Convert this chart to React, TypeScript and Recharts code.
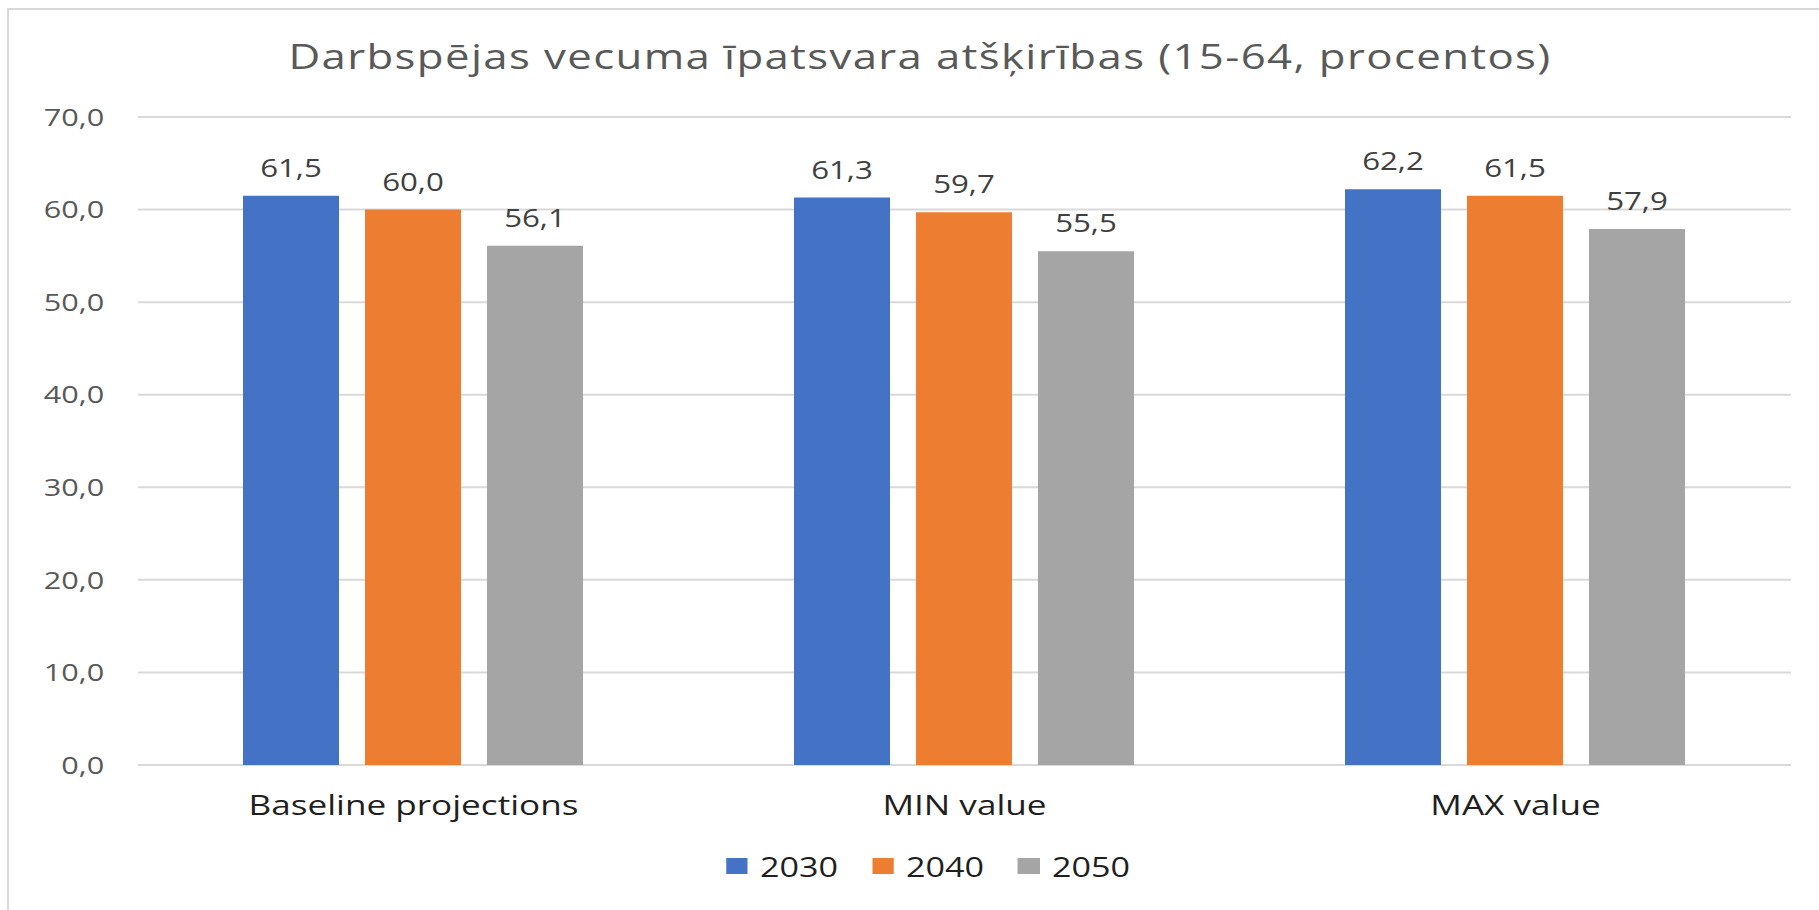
import { Bar, BarChart, CartesianGrid, LabelList, Legend, XAxis, YAxis } from "recharts";

const categories = ["Baseline projections", "MIN value", "MAX value"];
const values2030 = [61.5, 61.3, 62.2];
const values2040 = [60.0, 59.7, 61.5];
const values2050 = [56.1, 55.5, 57.9];
const seriesNames = ["2030", "2040", "2050"];
const yTicks = [0, 10, 20, 30, 40, 50, 60, 70];

const COLORS = ["#4472C4", "#ED7D31", "#A5A5A5"];
const FONT = "'Open Sans', sans-serif";

// the reference is stretched horizontally, so the chart is drawn narrower and scaled on x
const SX = 1.25;
const W = 1819 / SX;
const H = 910;

const data = categories.map((name, i) => ({
  name,
  s2030: values2030[i],
  s2040: values2040[i],
  s2050: values2050[i],
}));

const fmt = (v: any) => Number(v).toFixed(1).replace(".", ",");

function LegendContent() {
  return (
    <div style={{ display: "flex", alignItems: "center", fontFamily: FONT, fontSize: 27.3, lineHeight: 1, color: "#1f1f1f" }}>
      {seriesNames.map((n, i) => (
        <div key={n} style={{ display: "flex", alignItems: "center", marginRight: i < 2 ? 27.2 : 0 }}>
          <div style={{ width: 17.6, height: 16, background: COLORS[i], marginRight: 9.6 }} />
          <span>{n}</span>
        </div>
      ))}
    </div>
  );
}

export default function App() {
  return (
    <div style={{ position: "absolute", left: 0, top: 0, width: 1819, height: 910, overflow: "hidden", background: "#fff" }}>
      <div
        style={{
          position: "absolute",
          left: 7,
          top: 8,
          width: 1850,
          height: 950,
          border: "2px solid #d9d9d9",
          boxSizing: "border-box",
        }}
      />
      <div style={{ position: "absolute", left: 0, top: 0, width: W, height: H, transform: `scaleX(${SX})`, transformOrigin: "0 0" }}>
        <div
          style={{
            position: "absolute",
            left: 36,
            top: 37.9,
            width: 1400,
            textAlign: "center",
            fontFamily: FONT,
            fontSize: 35,
            lineHeight: 1,
            letterSpacing: 1.1,
            color: "#595959",
            whiteSpace: "nowrap",
          }}
        >
          Darbspējas vecuma īpatsvara atšķirības (15-64, procentos)
        </div>
        <BarChart width={W} height={H} data={data} margin={{ top: 117, right: 22.4, left: 0, bottom: 85 }} barGap={20.8} barSize={76.8}>
          <CartesianGrid horizontal vertical={false} stroke="#d9d9d9" strokeWidth={2} />
          <XAxis
            dataKey="name"
            axisLine={false}
            tickLine={false}
            tickSize={0}
            tickMargin={30}
            height={60}
            interval={0}
            tick={{ fill: "#1f1f1f", fontSize: 28.1, fontFamily: FONT }}
          />
          <YAxis
            domain={[0, 70]}
            ticks={yTicks}
            interval={0}
            width={110.4}
            axisLine={false}
            tickLine={false}
            tickSize={0}
            tickMargin={27}
            tickFormatter={fmt}
            tick={{ fill: "#595959", fontSize: 24.5, fontFamily: FONT }}
          />
          <Legend
            verticalAlign="middle"
            align="center"
            layout="horizontal"
            content={<LegendContent />}
            wrapperStyle={{ position: "absolute", left: 580.8, top: 852.8, width: 420 }}
          />
          <Bar dataKey="s2030" name={seriesNames[0]} fill={COLORS[0]} isAnimationActive={false}>
            <LabelList dataKey="s2030" position="top" offset={19} formatter={fmt} fill="#404040" fontSize={25} fontFamily={FONT} />
          </Bar>
          <Bar dataKey="s2040" name={seriesNames[1]} fill={COLORS[1]} isAnimationActive={false}>
            <LabelList dataKey="s2040" position="top" offset={19} formatter={fmt} fill="#404040" fontSize={25} fontFamily={FONT} />
          </Bar>
          <Bar dataKey="s2050" name={seriesNames[2]} fill={COLORS[2]} isAnimationActive={false}>
            <LabelList dataKey="s2050" position="top" offset={19} formatter={fmt} fill="#404040" fontSize={25} fontFamily={FONT} />
          </Bar>
        </BarChart>
      </div>
    </div>
  );
}
